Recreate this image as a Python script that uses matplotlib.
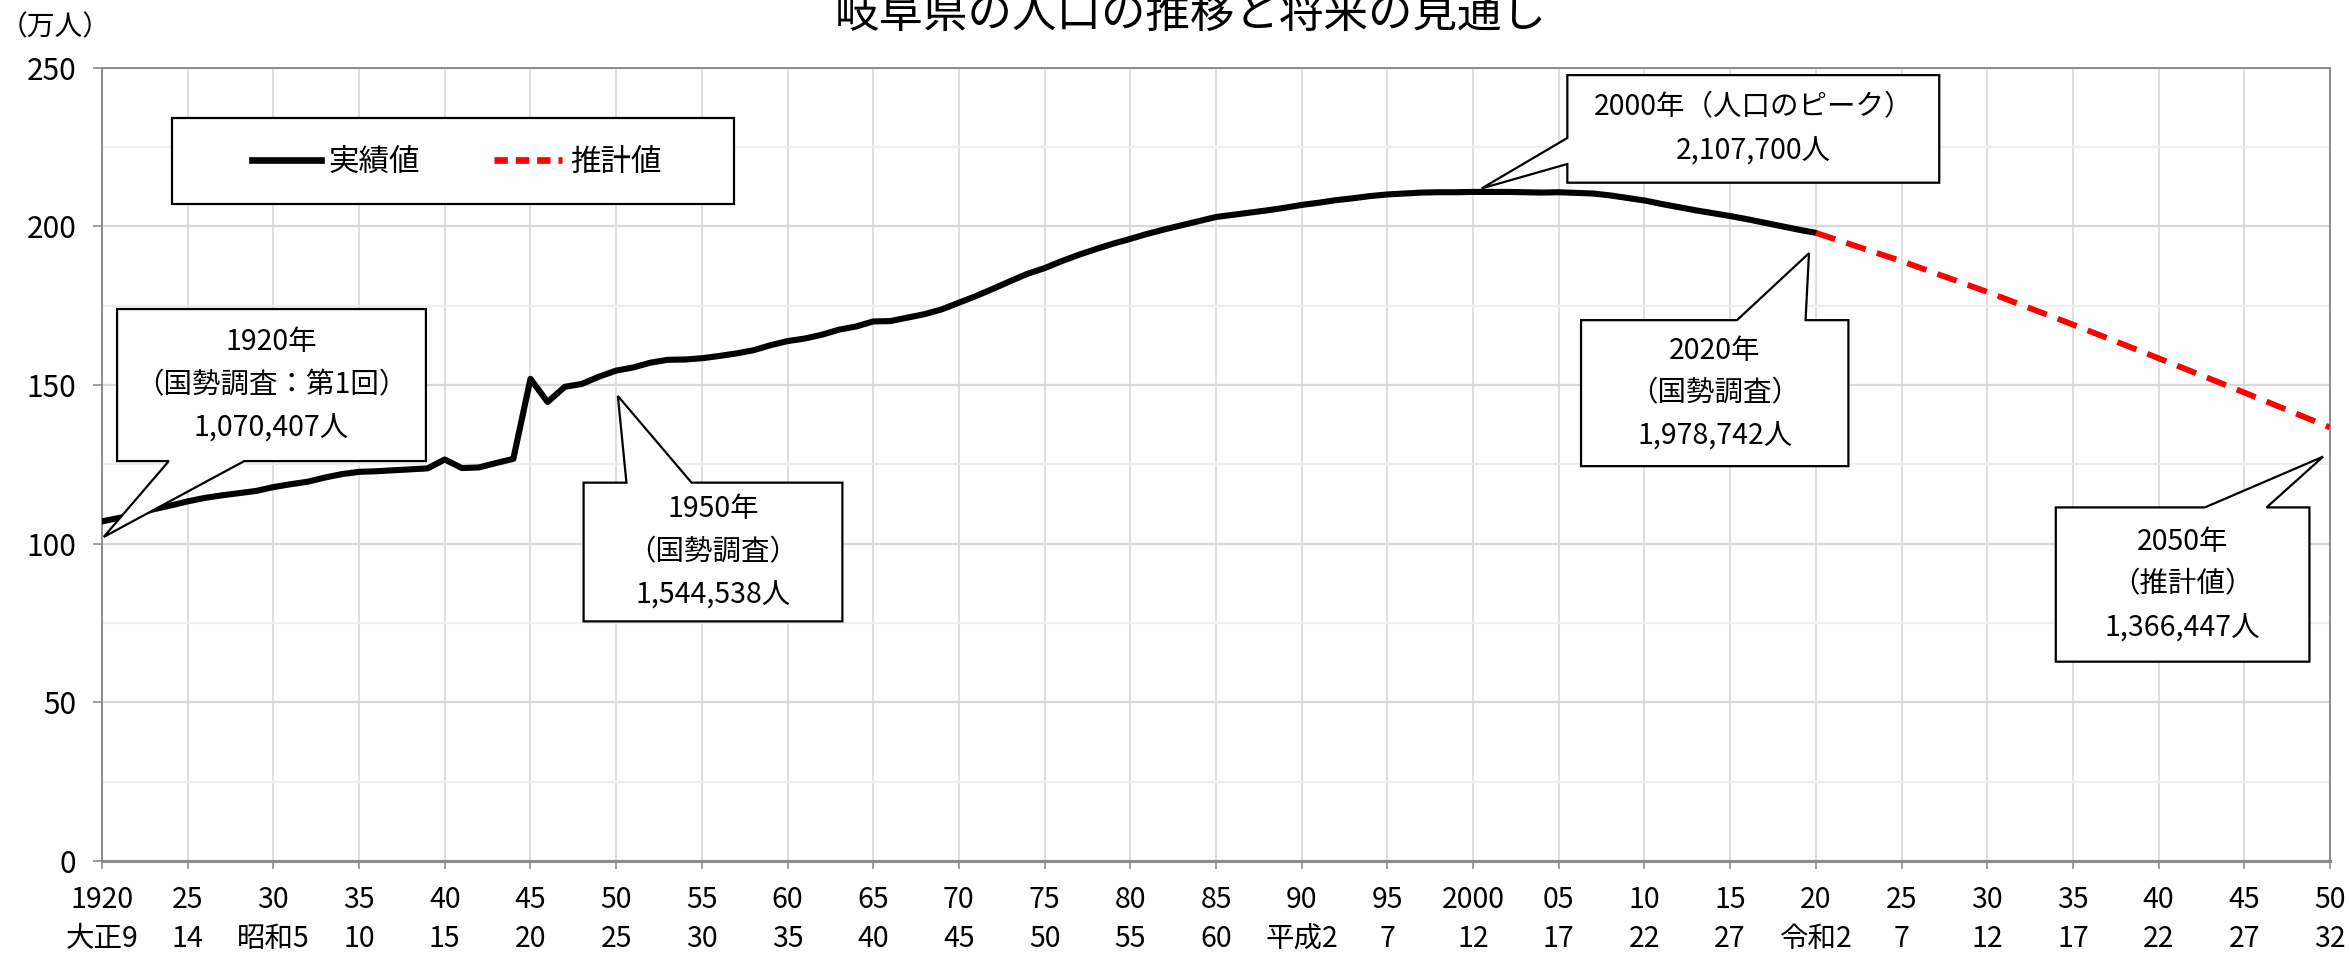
import matplotlib
matplotlib.use("Agg")
import matplotlib.pyplot as plt
from matplotlib.patches import Polygon, Rectangle
from matplotlib.lines import Line2D

plt.rcParams['font.family'] = ['Noto Sans CJK JP', 'DejaVu Sans']

# ---------------- data ----------------
title = "岐阜県の人口の推移と将来の見通し"
unit_label = "（万人）"

actual_years = list(range(1920, 2021))
actual_values = [
    107.0, 108.1, 109.4, 110.8, 112.0, 113.3, 114.4, 115.2, 115.9, 116.6,   # 1920-29
    117.8, 118.7, 119.5, 120.8, 121.9, 122.6, 122.8, 123.1, 123.4, 123.7,   # 1930-39
    126.5, 123.8, 124.0, 125.4, 126.7, 151.9, 144.6, 149.4, 150.3, 152.6,   # 1940-49
    154.5, 155.5, 157.0, 157.9, 158.0, 158.4, 159.1, 159.9, 160.9, 162.5,   # 1950-59
    163.8, 164.6, 165.8, 167.4, 168.4, 170.0, 170.1, 171.2, 172.3, 173.8,   # 1960-69
    175.9, 178.0, 180.3, 182.7, 185.0, 186.8, 189.0, 191.0, 192.8, 194.5,   # 1970-79
    196.0, 197.6, 199.0, 200.3, 201.6, 202.9, 203.6, 204.3, 205.0, 205.8,   # 1980-89
    206.7, 207.4, 208.2, 208.8, 209.5, 210.0, 210.3, 210.6, 210.7, 210.7,   # 1990-99
    210.8, 210.8, 210.8, 210.7, 210.6, 210.7, 210.5, 210.3, 209.7, 208.9,   # 2000-09
    208.1, 207.0, 206.0, 205.0, 204.1, 203.2, 202.2, 201.1, 200.0, 198.9,   # 2010-19
    197.9,                                                                  # 2020
]

proj_years = [2020, 2025, 2030, 2035, 2040, 2045, 2050]
proj_values = [197.9, 189.0, 179.3, 169.0, 158.4, 147.6, 136.6]

tick_years = list(range(1920, 2051, 5))
tick_row1 = ["1920", "25", "30", "35", "40", "45", "50", "55", "60", "65", "70",
             "75", "80", "85", "90", "95", "2000", "05", "10", "15", "20", "25",
             "30", "35", "40", "45", "50"]
tick_row2 = ["大正9", "14", "昭和5", "10", "15", "20", "25", "30", "35", "40", "45",
             "50", "55", "60", "平成2", "7", "12", "17", "22", "27", "令和2", "7",
             "12", "17", "22", "27", "32"]
y_ticks = [0, 50, 100, 150, 200, 250]
y_minor = [25, 75, 125, 175, 225]

legend_labels = ["実績値", "推計値"]

callout_texts = [
    "1920年\n（国勢調査：第1回）\n1,070,407人",
    "1950年\n（国勢調査）\n1,544,538人",
    "2000年（人口のピーク）\n2,107,700人",
    "2020年\n（国勢調査）\n1,978,742人",
    "2050年\n（推計値）\n1,366,447人",
]

# ---------------- layout (annotation geometry, data coords) ----------------
# (x0, x1, y_bottom, y_top, side, base_a, base_b, tip)
callout_geom = [
    (1920.88, 1938.9, 126.0, 173.9, "bottom", 1923.9, 1928.3, (1920.1, 102.1)),
    (1948.1, 1963.2, 75.5, 119.2, "top", 1950.6, 1954.4, (1950.1, 146.5)),
    (2005.5, 2027.2, 213.7, 247.6, "left", 219.6, 227.8, (2000.5, 211.9)),
    (2006.3, 2021.9, 124.4, 170.4, "top", 2015.4, 2019.4, (2019.6, 191.5)),
    (2034.0, 2048.8, 62.8, 111.4, "top", 2042.7, 2046.3, (2049.6, 127.4)),
]


def callout_vertices(x0, x1, yb, yt, side, a, b, tip):
    if side == "bottom":
        return [(x0, yt), (x1, yt), (x1, yb), (b, yb), tip, (a, yb), (x0, yb)]
    if side == "top":
        return [(x0, yt), (a, yt), tip, (b, yt), (x1, yt), (x1, yb), (x0, yb)]
    # left
    return [(x0, yt), (x1, yt), (x1, yb), (x0, yb), (x0, a), tip, (x0, b)]


W, H = 2349, 957
fig = plt.figure(figsize=(W / 100, H / 100), dpi=100)
ax = fig.add_axes([102 / W, 1 - 861 / H, 2228 / W, 793.5 / H])

grid_c = "#d9d9d9"
spine_c = "#8c8c8c"

ax.set_xlim(1920, 2050)
ax.set_ylim(0, 250)

ax.set_xticks(tick_years)
ax.set_xticklabels([f"{a}\n{b}" for a, b in zip(tick_row1, tick_row2)],
                   fontsize=20.5, linespacing=1.42)
ax.set_yticks(y_ticks)
ax.set_yticklabels([str(v) for v in y_ticks], fontsize=21.5)
ax.set_yticks(y_minor, minor=True)

ax.tick_params(axis="x", which="major", direction="out", length=6, width=1.2,
               color=spine_c, pad=11)
ax.tick_params(axis="y", which="major", direction="out", length=6.5, width=1.2,
               color=spine_c, pad=12)
ax.tick_params(axis="y", which="minor", length=0)

ax.grid(axis="x", which="major", color=grid_c, lw=1.2, zorder=0)
ax.grid(axis="y", which="major", color=grid_c, lw=1.6, zorder=0)
ax.grid(axis="y", which="minor", color="#efefef", lw=1.6, zorder=0)
ax.set_axisbelow(True)

for name, sp in ax.spines.items():
    sp.set_color(spine_c)
    sp.set_linewidth(1.4)
ax.spines["bottom"].set_linewidth(2.2)

# data lines
ax.plot(actual_years, actual_values, color="black", lw=4.4,
        solid_joinstyle="round", solid_capstyle="round", zorder=3)
ax.plot(proj_years, proj_values, color="#ff0000", lw=4.2,
        dashes=(3.5, 2.0), dash_capstyle="butt", zorder=3)

# legend with separate frame
ax.add_patch(Rectangle((0.0314, 0.8277), 0.2523, 0.1087, transform=ax.transAxes,
                       facecolor="white", edgecolor="black", lw=1.6, zorder=4))
handles = [Line2D([], [], color="black", lw=4.8),
           Line2D([], [], color="#ff0000", lw=4.8, dashes=(2.0, 1.2))]
ax.legend(handles, legend_labels, loc="center", bbox_to_anchor=(0.1593, 0.8809),
          ncol=2, frameon=False, fontsize=22, handlelength=2.25,
          handletextpad=0.25, columnspacing=2.4, borderpad=0)

# callouts
for (x0, x1, yb, yt, side, a, b, tip), txt in zip(callout_geom, callout_texts):
    poly = Polygon(callout_vertices(x0, x1, yb, yt, side, a, b, tip), closed=True,
                   facecolor="white", edgecolor="black", lw=1.6, zorder=6,
                   clip_on=False, joinstyle="miter")
    ax.add_patch(poly)
    ax.text((x0 + x1) / 2, (yb + yt) / 2, txt, ha="center", va="center",
            multialignment="center", fontsize=20.5, linespacing=1.55, zorder=7)

fig.text(0.507, 1 - 27 / H, title, ha="center", va="baseline", fontsize=32)
fig.text(0.0235, 1 - 27 / H, unit_label, ha="center", va="center", fontsize=20)

fig.savefig("out.png", dpi=100, facecolor="white")
